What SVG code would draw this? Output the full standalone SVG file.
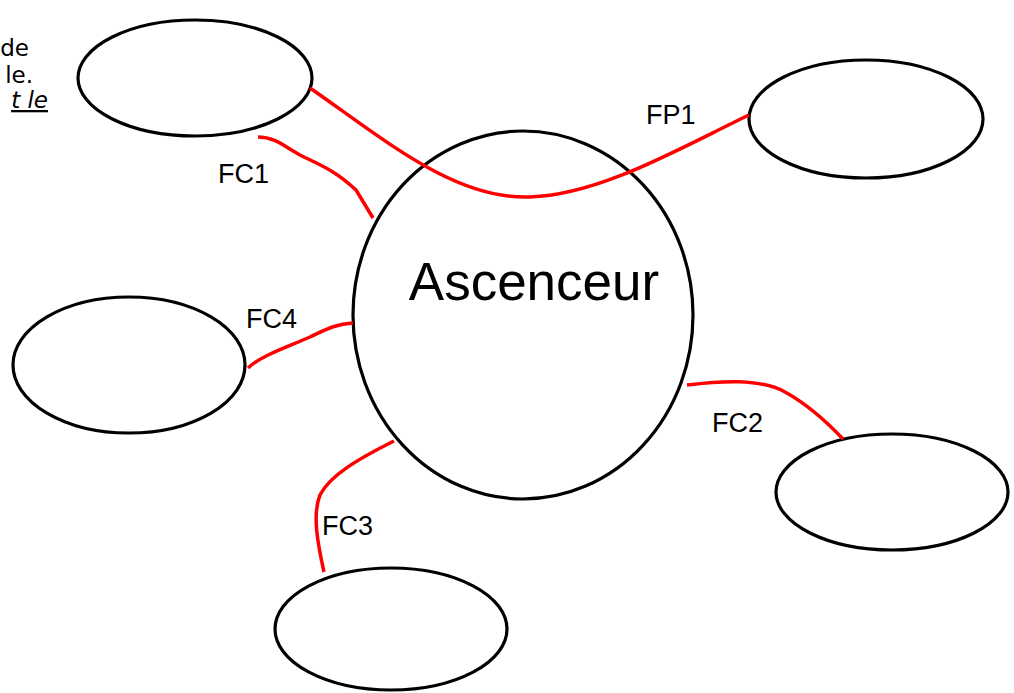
<svg xmlns="http://www.w3.org/2000/svg" width="1014" height="693" viewBox="0 0 1014 693">
<style>
.n{fill:#fff;stroke:#000;stroke-width:3.2}
.c{fill:none;stroke:#f00;stroke-width:3.5;stroke-linejoin:round;stroke-linecap:butt}
.l{font-family:"Liberation Sans",Arial,sans-serif;font-size:27px;fill:#000}
.big{font-size:53px}
.t{font-family:"DejaVu Sans",sans-serif;font-size:23px;fill:#000;text-anchor:end}
</style>
<rect width="1014" height="693" fill="#fff"/>
<g id="note">
<text class="t" x="29" y="56">de</text>
<text class="t" x="33" y="83">le.</text>
<text class="t" x="48" y="108" font-style="italic" text-decoration="underline">t le</text>
</g>
<g id="n_top_left"><ellipse class="n" cx="195" cy="78" rx="117" ry="58"/></g>
<g id="n_top_right"><ellipse class="n" cx="866" cy="119" rx="117" ry="59"/></g>
<g id="n_left"><ellipse class="n" cx="129" cy="365" rx="116" ry="68"/></g>
<g id="n_bottom_right"><ellipse class="n" cx="892" cy="492" rx="116" ry="58"/></g>
<g id="n_bottom"><ellipse class="n" cx="391" cy="629" rx="116" ry="61"/></g>
<g id="n_center"><ellipse class="n" cx="523" cy="315" rx="170" ry="184"/>
<text class="l big" x="534" y="300" text-anchor="middle">Ascenceur</text></g>
<g id="connectors">
<path class="c" d="M310,88 C385,140 455,200 530,197 C600,195 680,148 749,115"/>
<path class="c" d="M258,137 C275,137 285,147 300,155 C318,164 335,170 356,190 L373,218"/>
<path class="c" d="M248,368 C260,356 290,346 310,337 C325,330 335,324 353,323"/>
<path class="c" d="M394,441 C360,458 330,475 320,495 C312,515 318,545 324,572"/>
<path class="c" d="M687,385 C720,381 760,378 785,392 C805,403 825,420 843,439"/>
</g>
<g id="labels">
<text class="l" x="646" y="124">FP1</text>
<text class="l" x="218" y="183">FC1</text>
<text class="l" x="246" y="328">FC4</text>
<text class="l" x="322" y="535">FC3</text>
<text class="l" x="712" y="432">FC2</text>
</g>
</svg>
